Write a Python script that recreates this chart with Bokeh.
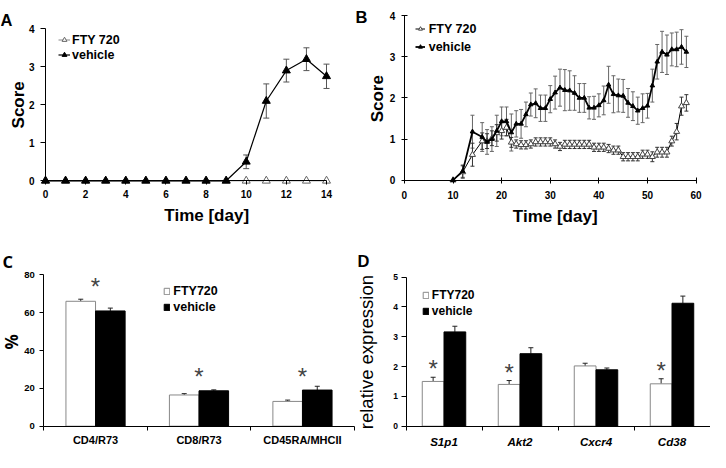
import math
import numpy as np
from bokeh.plotting import figure
from bokeh.models import (Range1d, LinearAxis, FixedTicker, Whisker, TeeHead,
                          ColumnDataSource, Legend, LegendItem, Label)
from bokeh.layouts import gridplot
from bokeh.embed import file_html
from bokeh.resources import INLINE
from bokeh.core.properties import value

# ---------------- data ----------------
# Panel A : clinical score, days 0-14
days_a = [0, 1, 2, 3, 4, 5, 6, 7, 8, 9, 10, 11, 12, 13, 14]
fty_a = [0, 0, 0, 0, 0, 0, 0, 0, 0, 0, 0, 0, 0, 0, 0]
veh_a = [0, 0, 0, 0, 0, 0, 0, 0, 0, 0, 0.5, 2.1, 2.9, 3.2, 2.75]
veh_a_err = [0, 0, 0, 0, 0, 0, 0, 0, 0, 0, 0.18, 0.45, 0.3, 0.3, 0.32]

# Panel B : clinical score, days 10-58
days_b = [10, 12, 14, 16, 17, 18, 19, 20, 21, 22, 23, 24, 25, 26, 27, 28, 29, 30,
          31, 32, 33, 34, 35, 36, 37, 38, 39, 40, 41, 42, 43, 44, 45, 46, 47, 48,
          49, 50, 51, 52, 53, 54, 55, 56, 57, 58]
veh_b = [0, 0.22, 1.18, 1.05, 0.93, 1.0, 1.2, 1.43, 1.43, 1.16, 1.37, 1.37, 1.6, 1.84,
         1.87, 1.75, 1.75, 1.97, 2.13, 2.25, 2.19, 2.18, 2.12, 2.0, 2.0, 1.76, 1.76,
         1.82, 1.94, 2.32, 2.09, 2.06, 2.05, 1.88, 1.8, 1.69, 1.75, 1.81, 2.3, 2.88,
         3.12, 3.05, 3.18, 3.18, 3.24, 3.12]
veh_b_err = [0, 0.15, 0.4, 0.35, 0.3, 0.3, 0.38, 0.35, 0.35, 0.45, 0.32, 0.35, 0.3,
             0.28, 0.35, 0.32, 0.32, 0.33, 0.4, 0.45, 0.5, 0.48, 0.42, 0.35, 0.35,
             0.27, 0.28, 0.28, 0.35, 0.45, 0.45, 0.4, 0.4, 0.35, 0.35, 0.33, 0.35,
             0.3, 0.4, 0.42, 0.5, 0.48, 0.4, 0.42, 0.42, 0.38]
fty_b = [0, 0.2, 0.62, 0.95, 0.95, 1.02, 1.15, 1.2, 1.28, 0.92, 0.88, 0.86, 0.86,
         0.88, 0.93, 0.93, 0.93, 0.93, 0.88, 0.82, 0.87, 0.87, 0.87, 0.87, 0.87,
         0.87, 0.8, 0.8, 0.8, 0.77, 0.73, 0.73, 0.57, 0.57, 0.57, 0.57, 0.63, 0.63,
         0.57, 0.68, 0.68, 0.68, 0.95, 1.18, 1.8, 1.88]
fty_b_err = [0, 0.15, 0.28, 0.2, 0.18, 0.18, 0.2, 0.2, 0.2, 0.12, 0.1, 0.1, 0.1, 0.1,
             0.1, 0.1, 0.1, 0.1, 0.1, 0.1, 0.1, 0.1, 0.1, 0.1, 0.1, 0.1, 0.1, 0.1,
             0.1, 0.1, 0.1, 0.1, 0.1, 0.1, 0.1, 0.1, 0.1, 0.1, 0.12, 0.12, 0.12,
             0.12, 0.12, 0.2, 0.22, 0.2]

# Panel C : % of cells
cats_c = ["CD4/R73", "CD8/R73", "CD45RA/MHCII"]
fty_c = [66.0, 16.5, 13.1]
fty_c_err = [1.1, 0.7, 0.7]
veh_c = [60.9, 18.7, 19.1]
veh_c_err = [1.5, 0.5, 2.0]
star_c = [77.4, 29.8, 29.8]

# Panel D : relative expression
cats_d = ["S1p1", "Akt2", "Cxcr4", "Cd38"]
fty_d = [1.50, 1.40, 2.02, 1.42]
fty_d_err = [0.14, 0.13, 0.09, 0.17]
veh_d = [3.16, 2.43, 1.89, 4.12]
veh_d_err = [0.19, 0.20, 0.06, 0.24]
star_d = [2.16, 2.05, None, 2.09]

FONT = "Liberation Sans"
W, H = 355, 226
BAR_W = 0.286


def make_fig(xpx, xdat, ypx, ydat):
    """Frame covers the whole canvas; data values xdat map to pixel columns xpx
    (from the left) and ydat to pixel rows ypx (from the top)."""
    kx = (xpx[1] - xpx[0]) / (xdat[1] - xdat[0])
    ky = (ypx[0] - ypx[1]) / (ydat[1] - ydat[0])
    xr = Range1d(xdat[0] - xpx[0] / kx, xdat[1] + (W - xpx[1]) / kx)
    yr = Range1d(ydat[0] - (H - ypx[0]) / ky, ydat[1] + ypx[1] / ky)
    p = figure(width=W, height=H, x_range=xr, y_range=yr, output_backend="svg",
               toolbar_location=None, x_axis_type=None, y_axis_type=None,
               min_border=0)
    p.outline_line_color = None
    p.background_fill_color = "white"
    p.border_fill_color = "white"
    return p


def axis(bounds, ticks, tick_size, tick_in, tick_out, tick_standoff,
         minor=None, overrides=None, tick_style="bold"):
    ticker = FixedTicker(ticks=ticks, minor_ticks=minor or [])
    ax = LinearAxis(fixed_location=0, bounds=bounds, ticker=ticker,
                    major_label_text_font=FONT,
                    major_label_text_font_style=tick_style,
                    major_label_text_font_size=tick_size,
                    major_label_text_color="black",
                    major_label_standoff=tick_standoff,
                    major_tick_in=tick_in, major_tick_out=tick_out,
                    axis_line_color="black", axis_line_width=1,
                    major_tick_line_color="black")
    if minor:
        ax.major_tick_line_color = None
        ax.minor_tick_in = 0
        ax.minor_tick_out = 4
        ax.minor_tick_line_color = "black"
    else:
        ax.minor_tick_line_color = None
    if overrides:
        ax.major_label_overrides = overrides
    return ax


def title(p, text, x, ytop, size, vertical=False, font=FONT, style="bold"):
    p.add_layout(Label(x=x, y=H - ytop, x_units="screen", y_units="screen",
                       text=text, text_font=font, text_font_style=style,
                       text_font_size=size, text_color="black",
                       text_align="center", text_baseline="middle",
                       angle=math.pi / 2 if vertical else 0))


def letter(p, text, x, ytop_base, font=FONT):
    p.add_layout(Label(x=x, y=H - ytop_base, x_units="screen", y_units="screen",
                       text=text, text_font=font, text_font_style="bold",
                       text_font_size="16.5px", text_color="black",
                       text_baseline="alphabetic"))


def legend(items, left, top, size, gw, gh, lh, standoff, spacing):
    y = H - top - (2 * lh + spacing) - 9.5
    return Legend(items=items, location=(left, y), glyph_width=gw, glyph_height=gh,
                  label_height=lh, label_standoff=standoff, spacing=spacing,
                  padding=0, margin=0, border_line_color=None,
                  background_fill_alpha=0, label_text_font=FONT,
                  label_text_font_style="bold", label_text_font_size=size,
                  label_text_color="black")


# ---------------- Panel A ----------------
pa = make_fig((45.0, 326.0), (0, 14), (180.3, 28.3), (0, 4))
pa.add_layout(axis((0, 14), [0, 2, 4, 6, 8, 10, 12, 14], "10px", 0, 4, 5), "below")
pa.add_layout(axis((0, 4), [0, 1, 2, 3, 4], "10px", 0, 5, 6), "left")
title(pa, "Score", 17.9, 104.3, "17px", vertical=True)
title(pa, "Time [day]", 206.2, 215.4, "17px")

src_a = ColumnDataSource(dict(day=days_a, fty=fty_a, veh=veh_a))
ea = [(d, v, e) for d, v, e in zip(days_a, veh_a, veh_a_err) if e > 0]
src_ae = ColumnDataSource(dict(day=[t[0] for t in ea],
                               lo=[t[1] - t[2] for t in ea],
                               hi=[t[1] + t[2] for t in ea]))
fa_l = pa.line("day", "fty", source=src_a, line_color="#888888", line_width=1)
fa_p = pa.scatter("day", "fty", source=src_a, marker="triangle", size=8,
                  fill_color="white", line_color="#666666", line_width=1)
pa.add_layout(Whisker(source=src_ae, base="day", lower="lo", upper="hi",
                      line_color="#555555", line_width=1,
                      upper_head=TeeHead(size=6, line_color="#555555", line_width=1),
                      lower_head=TeeHead(size=6, line_color="#555555", line_width=1)))
va_l = pa.line("day", "veh", source=src_a, line_color="black", line_width=1.2)
va_p = pa.scatter("day", "veh", source=src_a, marker="triangle", size=8,
                  fill_color="black", line_color="black")
pa.add_layout(legend([LegendItem(label="FTY 720", renderers=[fa_l, fa_p]),
                      LegendItem(label="vehicle", renderers=[va_l, va_p])],
                     58, 22.5, "12.5px", 12, 15, 15, 2, 0))
letter(pa, "A", 0, 19.3)

# ---------------- Panel B ----------------
pb = make_fig((48.9, 340.6), (0, 60), (179.7, 15.2), (0, 4))
pb.add_layout(axis((0, 60), [0, 10, 20, 30, 40, 50, 60], "10px", 3, 3, 8), "below")
pb.add_layout(axis((0, 4), [0, 1, 2, 3, 4], "10px", 3, 3, 6), "left")
title(pb, "Score", 22.0, 98.2, "17px", vertical=True)
title(pb, "Time [day]", 199.7, 216.4, "17px")

src_b = ColumnDataSource(dict(
    day=days_b, veh=veh_b, fty=fty_b,
    vlo=[v - e for v, e in zip(veh_b, veh_b_err)], vhi=[v + e for v, e in zip(veh_b, veh_b_err)],
    flo=[v - e for v, e in zip(fty_b, fty_b_err)], fhi=[v + e for v, e in zip(fty_b, fty_b_err)]))
pb.add_layout(Whisker(source=src_b, base="day", lower="vlo", upper="vhi",
                      line_color="#666666", line_width=1,
                      upper_head=TeeHead(size=4, line_color="#666666", line_width=1),
                      lower_head=TeeHead(size=4, line_color="#666666", line_width=1)))
pb.add_layout(Whisker(source=src_b, base="day", lower="flo", upper="fhi",
                      line_color="#333333", line_width=1,
                      upper_head=TeeHead(size=4, line_color="#333333", line_width=1),
                      lower_head=TeeHead(size=4, line_color="#333333", line_width=1)))
fb_l = pb.line("day", "fty", source=src_b, line_color="black", line_width=1)
fb_p = pb.scatter("day", "fty", source=src_b, marker="triangle", size=6,
                  fill_color="white", line_color="#444444", line_width=1)
vb_l = pb.line("day", "veh", source=src_b, line_color="black", line_width=1.8)
vb_p = pb.scatter("day", "veh", source=src_b, marker="triangle", size=4.5,
                  fill_color="black", line_color="black")
pb.add_layout(legend([LegendItem(label="FTY 720", renderers=[fb_l, fb_p]),
                      LegendItem(label="vehicle", renderers=[vb_l, vb_p])],
                     59.7, 10.7, "12.5px", 10, 17, 17, 4, 1))
letter(pb, "B", 0, 16.1)


# ---------------- bar panels ----------------
def bar_panel(p, cats, fty, fty_err, veh, veh_err, stars, star_at_fty, leg_left,
              leg_top, leg_size, star_size):
    n = len(cats)
    centers = np.arange(n) + 0.5
    xf = centers - BAR_W / 2
    xv = centers + BAR_W / 2
    src = ColumnDataSource(dict(
        xf=xf, xv=xv, fty=fty, veh=veh,
        fhi=[v + e for v, e in zip(fty, fty_err)],
        vhi=[v + e for v, e in zip(veh, veh_err)]))
    rf = p.vbar(x="xf", top="fty", bottom=0, width=BAR_W, source=src,
                fill_color="white", line_color="#888888", line_width=1)
    rv = p.vbar(x="xv", top="veh", bottom=0, width=BAR_W, source=src,
                fill_color="black", line_color="black", line_width=1)
    for base, lo, hi in (("xf", "fty", "fhi"), ("xv", "veh", "vhi")):
        p.add_layout(Whisker(source=src, base=base, lower=lo, upper=hi,
                             line_color="#222222", line_width=1, lower_head=None,
                             upper_head=TeeHead(size=5, line_color="#222222",
                                                line_width=1)))
    sx = xf if star_at_fty else centers
    sxs = [x for x, s in zip(sx, stars) if s is not None]
    sys_ = [s for s in stars if s is not None]
    p.text(x=sxs, y=sys_, text=["*"] * len(sxs), text_align="center",
           text_baseline="middle", text_font=value(FONT), text_font_size=star_size,
           text_color="#444444", y_offset=7)
    p.add_layout(legend([LegendItem(label="FTY720", renderers=[rf]),
                         LegendItem(label="vehicle", renderers=[rv])],
                        leg_left, leg_top, leg_size, 7, 8, 15, 3, 1))
    return centers


# ---------------- Panel C ----------------
pc = make_fig((43.3, 353.7), (0, 3), (199.7, 48.3), (0, 80))
cent_c = np.arange(len(cats_c)) + 0.5
pc.add_layout(axis((0, 3), list(cent_c), "11px", 0, 0, 4, minor=[0, 1, 2, 3],
                   overrides={float(c): s for c, s in zip(cent_c, cats_c)}), "below")
pc.add_layout(axis((0, 80), [0, 20, 40, 60, 80], "9.5px", 0, 4, 5), "left")
title(pc, "%", 11.2, 115.4, "17px", vertical=True, font="Open Sans")
bar_panel(pc, cats_c, fty_c, fty_c_err, veh_c, veh_c_err, star_c, False,
          163.3, 47.6, "12.5px", "24px")
letter(pc, "C", 2, 34.8, font="Open Sans")

# ---------------- Panel D ----------------
pd_ = make_fig((50.5, 354.5), (0, 4), (199.7, 50.5), (0, 5))
cent_d = np.arange(len(cats_d)) + 0.5
pd_.add_layout(axis((0, 4), list(cent_d), "11.6px", 0, 0, 5, minor=[0, 1, 2, 3, 4],
                    tick_style="bold italic",
                    overrides={float(c): s for c, s in zip(cent_d, cats_d)}), "below")
pd_.add_layout(axis((0, 5), [0, 1, 2, 3, 4, 5], "8.5px", 0, 5, 3), "left")
title(pd_, "relative expression", 10.6, 125.6, "18.5px", vertical=True, style="normal")
bar_panel(pd_, cats_d, fty_d, fty_d_err, veh_d, veh_d_err, star_d, True,
          66.8, 52.4, "12px", "24px")
letter(pd_, "D", 2, 34.8)

grid = gridplot([[pa, pb], [pc, pd_]], toolbar_location=None)
open("out.html", "w").write(file_html(grid, INLINE))
